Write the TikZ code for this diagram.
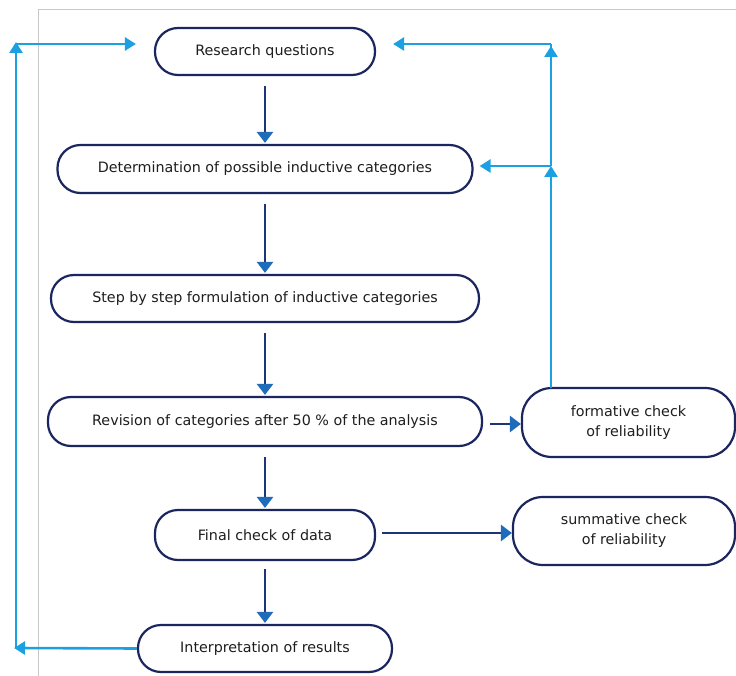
\documentclass[tikz,border=0pt]{standalone}
\usepackage{fontspec}
\setmainfont{DejaVu Sans}
\usetikzlibrary{arrows.meta}
\definecolor{navy}{HTML}{1B2660}
\definecolor{darkln}{HTML}{1D3577}
\definecolor{headblue}{HTML}{1F6DBA}
\definecolor{lightblue}{HTML}{1BA1E2}
\definecolor{frame}{HTML}{C8C8C8}
\definecolor{txt}{HTML}{1E1E1E}
\tikzset{
  box/.style={draw=navy, line width=2.2pt, rounded corners=23pt, fill=white,
    text=txt, font=\fontsize{14.3}{17}\selectfont, align=center, inner sep=0pt},
  flow/.style={draw=darkln, line width=2.6pt,
    -{Triangle[width=16pt,length=11pt,fill=headblue,color=headblue]}},
  back/.style={draw=lightblue, line width=2.6pt},
  backtip/.style={-{Triangle[width=13pt,length=11pt,fill=lightblue,color=lightblue]}},
}
\begin{document}
\begin{tikzpicture}[x=1pt,y=-1pt]
\useasboundingbox (0,0) rectangle (736,676);
\fill[white] (0,0) rectangle (736,676);
% frame
\draw[frame, line width=1pt] (38,676) -- (38,10) -- (736,10);

% nodes
\node[box, minimum width=220pt, minimum height=47pt] (rq) at (265,51.5) {Research questions};
\node[box, minimum width=415pt, minimum height=48pt] (det) at (265,169) {Determination of possible inductive categories};
\node[box, minimum width=428pt, minimum height=47pt] (step) at (265,298.5) {Step by step formulation of inductive categories};
\node[box, minimum width=434pt, minimum height=49pt] (rev) at (265,421.5) {Revision of categories after 50 \% of the analysis};
\node[box, minimum width=213pt, minimum height=69pt, rounded corners=30pt] (form) at (628.5,422.5) {formative check\\[3pt]of reliability};
\node[box, minimum width=220pt, minimum height=50pt] (fin) at (265,535) {Final check of data};
\node[box, minimum width=222pt, minimum height=68pt, rounded corners=30pt] (sum) at (624,531) {summative check\\[3pt]of reliability};
\node[box, minimum width=254pt, minimum height=47pt] (int) at (265,648.5) {Interpretation of results};

% main flow
\draw[flow, shorten <=10pt, shorten >=1pt] (rq.south) -- (det.north);
\draw[flow, shorten <=10pt, shorten >=1pt] (det.south) -- (step.north);
\draw[flow, shorten <=10pt, shorten >=1pt] (step.south) -- (rev.north);
\draw[flow, shorten <=10pt, shorten >=1pt] (rev.south) -- (fin.north);
\draw[flow, shorten <=8pt, shorten >=1pt] (fin.south) -- (int.north);
\coordinate (revr) at (482,424);
\coordinate (finr) at (375,533);
\draw[flow, shorten <=8pt] (revr) -- (form.west |- revr);
\draw[flow, shorten <=7pt] (finr) -- (sum.west |- finr);

% right feedback loop
\coordinate (fu) at (551,388);
\coordinate (fm) at (551,166);
\coordinate (ft) at (551,44);
\coordinate (ftt) at (551,46);
\draw[back, backtip] (fu) -- (fm);
\draw[back, backtip] (fm) -- (ftt);
\draw[back] (fm) -- (ft);
\draw[back, backtip, shorten >=6pt] (fm) -- (det.east |- fm);
\draw[back, backtip, shorten >=17pt] (ft) -- (rq.east |- ft);

% left feedback loop
\coordinate (lb) at (16,648);
\coordinate (lt) at (16,44);
\coordinate (ltt) at (16,42);
\draw[back, backtip, shorten >=-2pt] (int.west) -- (lb);
\draw[back, backtip] (lb) -- (ltt);
\draw[back, backtip, shorten >=18pt] (lt) -- (rq.west |- lt);
\end{tikzpicture}
\end{document}
